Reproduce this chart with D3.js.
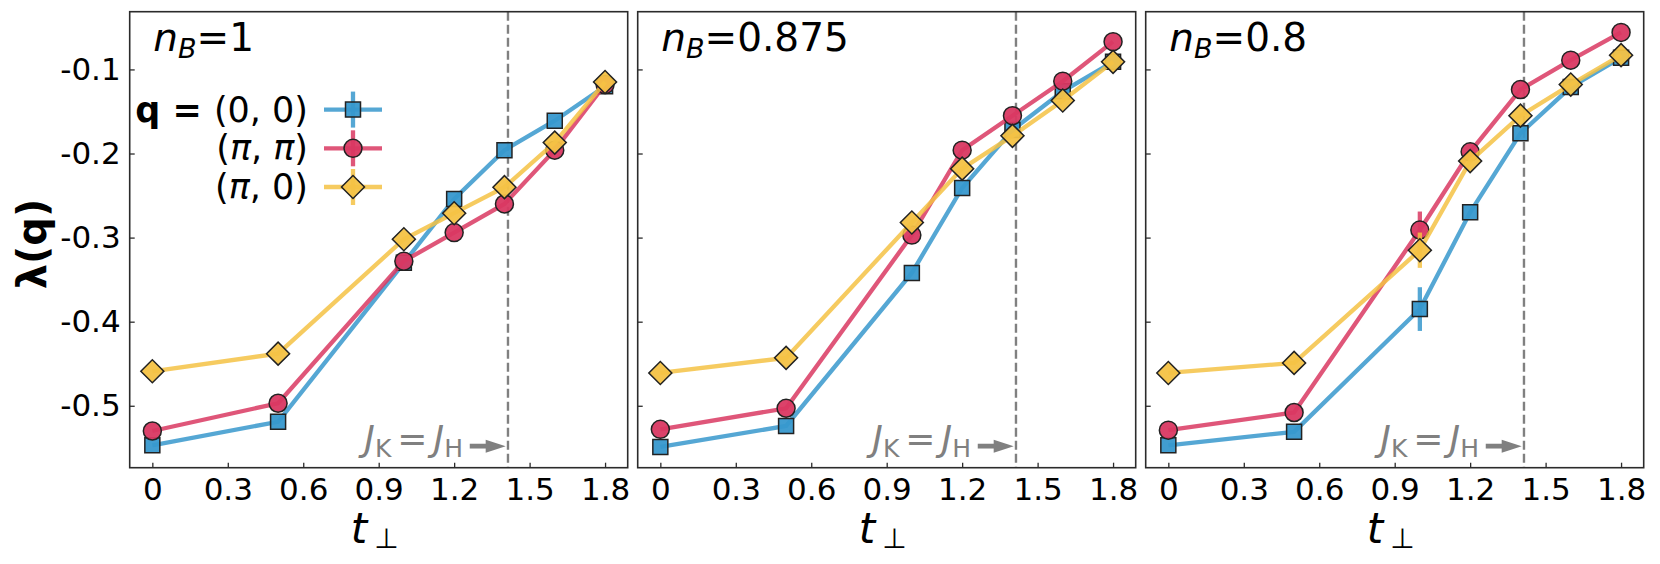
<!DOCTYPE html>
<html>
<head>
<meta charset="utf-8">
<script src="https://cdn.jsdelivr.net/npm/d3@7"></script>
<style>
  body { margin: 0; background: #fff; }
  svg { display: block; font-family: "DejaVu Sans", sans-serif; }
</style>
</head>
<body>
<div id="chart"></div>
<script>
// t_perp values shared by every panel
const tPerp = [0, 0.5, 1.0, 1.2, 1.4, 1.6, 1.8];
const fillings = ["1", "0.875", "0.8"];

// lambda(q), one row per panel (n_B = 1, 0.875, 0.8)
const q00 = [
  [-0.547, -0.519, -0.330, -0.254, -0.196, -0.161, -0.120],
  [-0.549, -0.524, -0.342, -0.241, -0.172, -0.126, -0.091],
  [-0.547, -0.531, -0.385, -0.270, -0.176, -0.121, -0.086]
];
const qPiPi = [
  [-0.530, -0.497, -0.328, -0.294, -0.260, -0.196, -0.118],
  [-0.528, -0.503, -0.297, -0.196, -0.155, -0.114, -0.067],
  [-0.529, -0.508, -0.291, -0.198, -0.124, -0.089, -0.056]
];
const qPi0 = [
  [-0.459, -0.438, -0.302, -0.271, -0.240, -0.187, -0.115],
  [-0.461, -0.443, -0.282, -0.218, -0.179, -0.137, -0.091],
  [-0.461, -0.449, -0.315, -0.209, -0.155, -0.118, -0.083]
];
const err00 = [
  [0, 0, 0, 0, 0, 0, 0],
  [0, 0, 0, 0, 0, 0, 0],
  [0, 0, 0.026, 0, 0, 0, 0]
];
const errPiPi = [
  [0, 0, 0, 0, 0, 0, 0],
  [0, 0, 0, 0, 0, 0, 0],
  [0, 0, 0.022, 0, 0, 0, 0]
];
const errPi0 = [
  [0, 0, 0, 0, 0, 0, 0],
  [0, 0, 0, 0, 0, 0, 0],
  [0, 0, 0.021, 0, 0, 0, 0]
];

const xTicks = [0, 0.3, 0.6, 0.9, 1.2, 1.5, 1.8];
const yTicks = [-0.5, -0.4, -0.3, -0.2, -0.1];
const jkEqualsJh = 1.414;

const series = [
  { label: "(0, 0)", values: q00, errors: err00, color: "#3798cd", marker: "square" },
  { label: "(\u03c0, \u03c0)", values: qPiPi, errors: errPiPi, color: "#d93862", marker: "circle" },
  { label: "(\u03c0, 0)", values: qPi0, errors: errPi0, color: "#f4c244", marker: "diamond" }
];

const width = 1660;
const height = 564;
const marginLeft = 129.7;
const marginTop = 11.7;
const panelW = 498;
const panelH = 456;
const gap = 10;
const frame = "#2b2b2b";
const annot = "#808080";
const lineW = 4.3;

const svg = d3.select("#chart")
  .append("svg")
  .attr("width", width)
  .attr("height", height);

const x = d3.scaleLinear().domain([-0.09, 1.89]).range([0, panelW]);

const allY = series.flatMap(s => s.values.flat());
const yMin = d3.min(allY);
const yMax = d3.max(allY);
const pad = 0.05 * (yMax - yMin);
const y = d3.scaleLinear().domain([yMin - pad, yMax + pad]).range([panelH, 0]);

const markerPath = kind => {
  if (kind === "square") return d3.symbol().type(d3.symbolSquare).size(225)();
  if (kind === "circle") return d3.symbol().type(d3.symbolCircle).size(254)();
  return d3.symbol().type(d3.symbolSquare).size(265)();
};
const markerRotate = kind => (kind === "diamond" ? " rotate(45)" : "");

const fmt = v => (v < 0 ? "-" + d3.format(".1f")(-v) : d3.format(".1f")(v));

fillings.forEach((nb, p) => {
  const g = svg.append("g")
    .attr("transform", `translate(${marginLeft + p * (panelW + gap)},${marginTop})`);

  // x ticks (inward) + labels
  const xAxis = d3.axisBottom(x)
    .tickValues(xTicks)
    .tickSize(-5)
    .tickPadding(10)
    .tickFormat(d => (d === 0 ? "0" : d3.format(".1f")(d)));
  const gx = g.append("g").attr("transform", `translate(0,${panelH})`).call(xAxis);
  gx.select(".domain").remove();
  gx.selectAll("line").attr("stroke", frame).attr("stroke-width", 1.3);
  gx.selectAll("text")
    .attr("font-size", 31)
    .attr("fill", "#000")
    .attr("font-family", "DejaVu Sans");

  // y ticks (inward), labels only on first panel
  const yAxis = d3.axisLeft(y)
    .tickValues(yTicks)
    .tickSize(-5)
    .tickPadding(9)
    .tickFormat(p === 0 ? fmt : () => "");
  const gy = g.append("g").call(yAxis);
  gy.select(".domain").remove();
  gy.selectAll("line").attr("stroke", frame).attr("stroke-width", 1.3);
  gy.selectAll("text")
    .attr("font-size", 31)
    .attr("fill", "#000")
    .attr("font-family", "DejaVu Sans");

  // crossover line J_K = J_H
  g.append("line")
    .attr("x1", x(jkEqualsJh))
    .attr("x2", x(jkEqualsJh))
    .attr("y1", 0)
    .attr("y2", panelH)
    .attr("stroke", annot)
    .attr("stroke-width", 2.4)
    .attr("stroke-dasharray", "9,4");

  const ann = g.append("text")
    .attr("x", x(1.235))
    .attr("y", y(-0.5535))
    .attr("text-anchor", "end")
    .attr("font-size", 36)
    .attr("fill", annot);
  ann.append("tspan").attr("font-style", "italic").text("J");
  ann.append("tspan").attr("font-size", 25).attr("dy", 6).text("K");
  ann.append("tspan").attr("dy", -6).attr("dx", 6).text("=");
  ann.append("tspan").attr("dx", 6).attr("font-style", "italic").text("J");
  ann.append("tspan").attr("font-size", 25).attr("dy", 6).text("H");

  const ay = y(-0.548);
  const ax0 = x(1.262);
  const ax1 = x(1.405);
  g.append("line")
    .attr("x1", ax0).attr("x2", ax1 - 14)
    .attr("y1", ay).attr("y2", ay)
    .attr("stroke", annot).attr("stroke-width", 4.8);
  g.append("path")
    .attr("d", `M${ax1},${ay}L${ax1 - 20},${ay - 6.5}L${ax1 - 20},${ay + 6.5}Z`)
    .attr("fill", annot);

  // series
  series.forEach(s => {
    const pts = tPerp.map((t, i) => ({ t, v: s.values[p][i], e: s.errors[p][i] }));
    const line = d3.line().x(d => x(d.t)).y(d => y(d.v));
    g.append("path")
      .datum(pts)
      .attr("d", line)
      .attr("fill", "none")
      .attr("stroke", s.color)
      .attr("stroke-opacity", 0.85)
      .attr("stroke-width", lineW);
    g.selectAll(null)
      .data(pts.filter(d => d.e > 0))
      .enter()
      .append("line")
      .attr("x1", d => x(d.t)).attr("x2", d => x(d.t))
      .attr("y1", d => y(d.v - d.e)).attr("y2", d => y(d.v + d.e))
      .attr("stroke", s.color)
      .attr("stroke-opacity", 0.85)
      .attr("stroke-width", lineW);
    g.selectAll(null)
      .data(pts)
      .enter()
      .append("path")
      .attr("d", markerPath(s.marker))
      .attr("transform", d => `translate(${x(d.t)},${y(d.v)})${markerRotate(s.marker)}`)
      .attr("fill", s.color)
      .attr("fill-opacity", 0.95)
      .attr("stroke", "#222")
      .attr("stroke-width", 1.5);
  });

  // frame
  g.append("rect")
    .attr("width", panelW)
    .attr("height", panelH)
    .attr("fill", "none")
    .attr("stroke", frame)
    .attr("stroke-width", 1.6);

  // panel title n_B = ...
  const title = g.append("text")
    .attr("x", 23.5)
    .attr("y", 51.5 - marginTop)
    .attr("font-size", 39)
    .attr("fill", "#000");
  title.append("tspan").attr("font-style", "italic").text("n");
  title.append("tspan").attr("font-style", "italic").attr("font-size", 27).attr("dy", 7).text("B");
  title.append("tspan").attr("dy", -7).text("=" + nb);

  // x label
  const xl = g.append("text")
    .attr("x", panelW / 2 - 4)
    .attr("y", 543 - marginTop)
    .attr("text-anchor", "middle")
    .attr("font-size", 42)
    .attr("fill", "#000");
  xl.append("tspan").attr("font-style", "italic").text("t");
  xl.append("tspan").attr("font-size", 28).attr("dx", 7).attr("dy", 5).text("\u22a5");
});

// y label
svg.append("text")
  .attr("transform", "translate(32,244) rotate(-90)")
  .attr("text-anchor", "middle")
  .attr("dominant-baseline", "central")
  .attr("font-size", 40)
  .attr("font-weight", "bold")
  .attr("fill", "#000")
  .text("\u03bb(q)");

// legend in first panel
const legend = svg.append("g");
series.forEach((s, i) => {
  const cy = 109.6 + i * 38.7;
  const row = legend.append("g");
  row.append("line")
    .attr("x1", 324).attr("x2", 382)
    .attr("y1", cy).attr("y2", cy)
    .attr("stroke", s.color).attr("stroke-opacity", 0.85).attr("stroke-width", lineW);
  row.append("line")
    .attr("x1", 353).attr("x2", 353)
    .attr("y1", cy - 18).attr("y2", cy + 18)
    .attr("stroke", s.color).attr("stroke-opacity", 0.85).attr("stroke-width", lineW);
  row.append("path")
    .attr("d", markerPath(s.marker))
    .attr("transform", `translate(353,${cy})${markerRotate(s.marker)}`)
    .attr("fill", s.color)
    .attr("fill-opacity", 0.95)
    .attr("stroke", "#222")
    .attr("stroke-width", 1.5);
  const txt = row.append("text")
    .attr("x", 308)
    .attr("y", cy + 12)
    .attr("text-anchor", "end")
    .attr("font-size", 35)
    .attr("fill", "#000");
  if (i === 0) {
    txt.append("tspan").attr("font-weight", "bold").text("q = ");
  }
  const parts = s.label.split(/(\u03c0)/);
  parts.forEach(part => {
    if (part === "") return;
    txt.append("tspan")
      .attr("font-style", part === "\u03c0" ? "italic" : "normal")
      .text(part);
  });
});
</script>
</body>
</html>
